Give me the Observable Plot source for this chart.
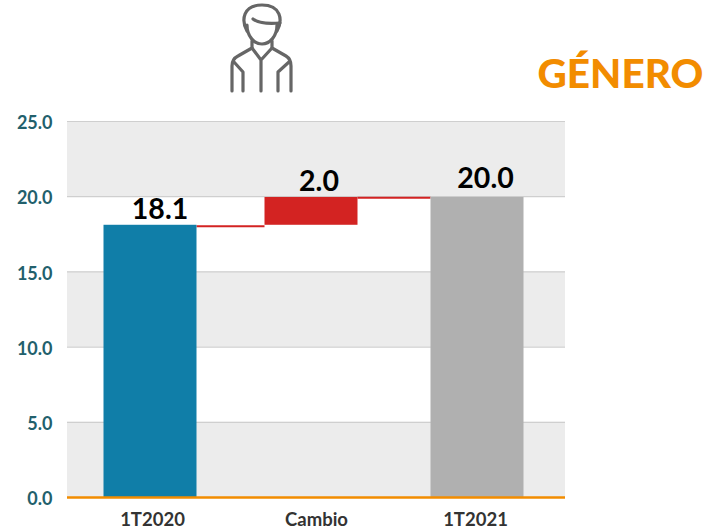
<!DOCTYPE html>
<html>
<head>
<meta charset="utf-8">
<script src="https://cdn.jsdelivr.net/npm/d3@7"></script>
<script src="https://cdn.jsdelivr.net/npm/@observablehq/plot@0.6"></script>
<style>
html,body{margin:0;padding:0;background:#fff;}
#wrap{position:relative;width:706px;height:532px;overflow:hidden;}
#title{position:absolute;left:537.5px;top:50px;font:900 40.5px Lato,sans-serif;color:#f28c00;line-height:46px;white-space:nowrap;}
#icon{position:absolute;left:0;top:0;}
</style>
</head>
<body>
<div id="wrap">
<div id="chart"></div>
<svg id="icon" width="706" height="100" fill="none" stroke="#666" stroke-width="3.2" stroke-linecap="round" stroke-linejoin="round" role="img" aria-label="Icono de hombre">
<path d="M247 31C241 20 243 5 262 5C281 5 283 20 277 31"/>
<path d="M253 19C258 23 268 24 280 23"/>
<path d="M247 25C247 36 254 44 262 44C270 44 277 36 277 25"/>
<path d="M252 41V48L238 56Q232 59 232 66V91"/>
<path d="M272 41V48L286 56Q291 59 291 66V91"/>
<path d="M252 48L261 60L272 48M261 60V91"/>
<path d="M234 62L243 72V91M289 62L278 72V91"/>
</svg>
<div id="title">GÉNERO</div>
</div>
<script>
const categories = ["1T2020", "Cambio", "1T2021"];
const barStart = [0, 18.1, 0];
const barEnd = [18.1, 19.95, 19.95];
const barLabels = ["18.1", "2.0", "20.0"];
const barColors = ["#107ea8", "#d32322", "#b0b0b0"];
const yTicks = [0, 5, 10, 15, 20, 25];
const shadedBands = [[0, 5], [10, 15], [20, 25]];
const connectors = [["1T2020", "Cambio", 18.1], ["Cambio", "1T2021", 20.0]];

const font = "Lato, sans-serif";
const barDx = [-0.5, -5.5, -5.5];
const labelDx = [9, 2, 2.5];
const labelDy = [-15, -16, -19];
const xLabelDx = [1.5, -0.5, -7.5];
const connectorInset = [98, 93];

const barMarks = categories.map((c, i) =>
  Plot.rectY([c], {x: d => d, y1: () => barStart[i], y2: () => barEnd[i], fill: barColors[i], dx: barDx[i], inset: 0})
);
const labelMarks = categories.map((c, i) =>
  Plot.text([c], {x: d => d, y: () => barEnd[i], text: () => barLabels[i], dx: labelDx[i], dy: labelDy[i], fontSize: 28.5, fontWeight: 700, fill: "#000", fontFamily: font})
);
const xLabelMarks = categories.map((c, i) =>
  Plot.text([c], {x: d => d, y: () => 0, text: d => d, dx: xLabelDx[i], dy: 23, fontSize: 18.5, fontWeight: 700, fill: "#333", fontFamily: font})
);
const connectorMarks = connectors.map((c, i) =>
  Plot.ruleY([c], {x1: d => d[0], x2: d => d[1], y: d => d[2], stroke: "#d32322", strokeWidth: 2, dx: -5.5, dy: 1, insetLeft: connectorInset[i], insetRight: 93})
);

const chart = Plot.plot({
  width: 706,
  height: 532,
  marginLeft: 67,
  marginRight: 141,
  marginTop: 121,
  marginBottom: 35,
  style: {background: "transparent", overflow: "visible"},
  x: {domain: categories, paddingInner: 0.44, paddingOuter: 0.22, axis: null},
  y: {domain: [0, 25], axis: null},
  marks: [
    Plot.rectY(shadedBands, {y1: d => d[0], y2: d => d[1], fill: "#ececec"}),
    Plot.ruleY(yTicks.slice(1), {stroke: "#cfcfcf", strokeWidth: 1.2}),
    Plot.text(yTicks, {y: d => d, frameAnchor: "left", dx: -15, dy: 2, textAnchor: "end", text: d => d.toFixed(1), fontSize: 18, fontWeight: 700, fill: "#22606c", fontFamily: font}),
    ...connectorMarks,
    ...barMarks,
    Plot.ruleY([0], {stroke: "#f28c00", strokeWidth: 2.5}),
    ...labelMarks,
    ...xLabelMarks
  ]
});
document.getElementById("chart").appendChild(chart);
</script>
</body>
</html>
